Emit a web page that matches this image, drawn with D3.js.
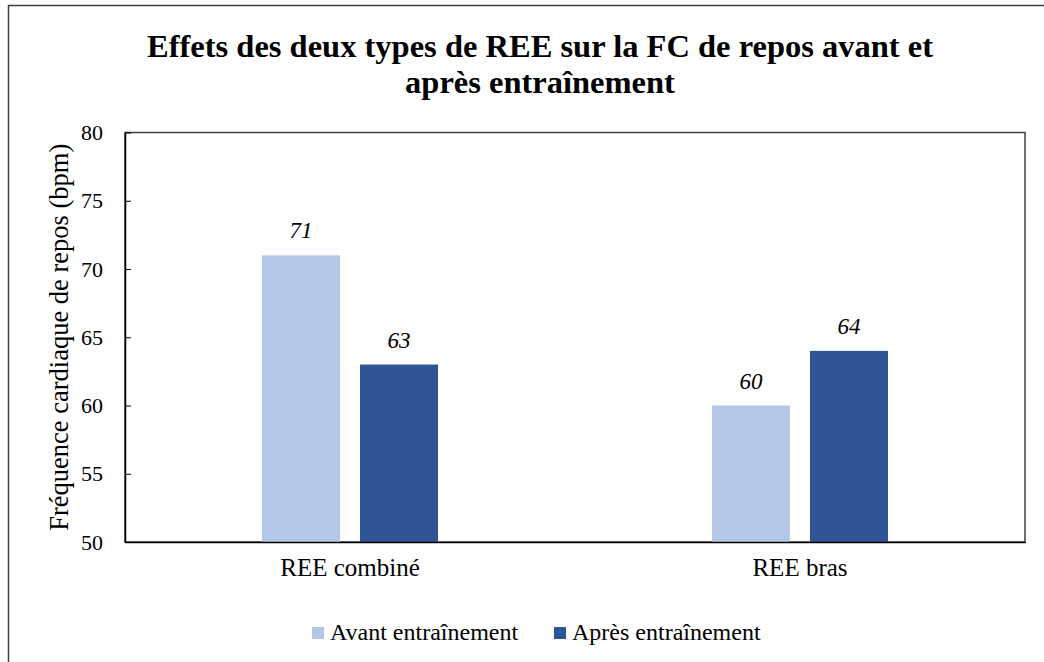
<!DOCTYPE html>
<html>
<head>
<meta charset="utf-8">
<script src="https://cdn.jsdelivr.net/npm/d3@7"></script>
<style>
  body { margin: 0; background: #fff; }
  text { font-family: "Liberation Serif", "Times New Roman", serif; fill: #000; }
</style>
</head>
<body>
<div id="chart"></div>
<script>
// Data
var categories = ["REE combiné", "REE bras"];
var series = ["Avant entraînement", "Après entraînement"];
var avantValues = [71, 60];
var apresValues = [63, 64];
var yTicks = [50, 55, 60, 65, 70, 75, 80];
var colors = ["#B4C7E7", "#2F5597"];

var w = 1044, h = 662;
var margin = {top: 132.5, right: 19, bottom: 120, left: 125};
var serif = "'Liberation Serif', 'Times New Roman', serif";

var svg = d3.select("#chart").append("svg")
  .attr("width", w).attr("height", h);

// outer frame (runs off the bottom/right edge)
svg.append("rect")
  .attr("x", 8.5).attr("y", 5.5)
  .attr("width", w + 20).attr("height", h + 20)
  .attr("fill", "none").attr("stroke", "#404040").attr("stroke-width", 1.5);

// Title
var title = svg.append("text")
  .attr("text-anchor", "middle")
  .style("font-family", serif)
  .style("font-weight", "bold").style("font-size", "32.5px");
title.append("tspan").attr("x", 540).attr("y", 57).text("Effets des deux types de REE sur la FC de repos avant et");
title.append("tspan").attr("x", 540).attr("y", 93).text("après entraînement");

var x0 = d3.scaleBand().domain(categories)
  .range([margin.left, w - margin.right]);
var x1 = d3.scaleBand().domain(series)
  .range([0, x0.bandwidth()])
  .paddingInner(0.204).paddingOuter(1.398);
var y = d3.scaleLinear().domain([50, 80]).range([h - margin.bottom, margin.top]);

// plot frame
svg.append("rect")
  .attr("x", x0.range()[0]).attr("y", y(80))
  .attr("width", x0.range()[1] - x0.range()[0]).attr("height", y(50) - y(80))
  .attr("fill", "none").attr("stroke", "#404040").attr("stroke-width", 1.5);

// bars
var rows = categories.map(function(c, i) {
  return {cat: c, vals: [avantValues[i], apresValues[i]]};
});
var groups = svg.selectAll(".grp").data(rows).enter().append("g")
  .attr("transform", function(d) { return "translate(" + x0(d.cat) + ",0)"; });

groups.selectAll("rect").data(function(d) {
    return d.vals.map(function(v, j) { return {s: series[j], v: v, j: j}; });
  }).enter().append("rect")
  .attr("x", function(d) { return x1(d.s); })
  .attr("y", function(d) { return y(d.v); })
  .attr("width", x1.bandwidth())
  .attr("height", function(d) { return y(50) - y(d.v); })
  .attr("fill", function(d) { return colors[d.j]; });

// value labels
groups.selectAll(".lbl").data(function(d) {
    return d.vals.map(function(v, j) { return {s: series[j], v: v}; });
  }).enter().append("text")
  .attr("x", function(d) { return x1(d.s) + x1.bandwidth() / 2; })
  .attr("y", function(d) { return y(d.v) - 17; })
  .attr("text-anchor", "middle")
  .style("font-family", serif)
  .style("font-style", "italic").style("font-size", "23px")
  .text(function(d) { return d.v; });

// y axis
var yAxis = d3.axisLeft(y).tickValues(yTicks).tickSize(0).tickPadding(22);
var gy = svg.append("g").attr("transform", "translate(" + margin.left + ",0)").call(yAxis);
gy.select(".domain").attr("stroke", "#000").attr("stroke-width", 1.5);
gy.selectAll(".tick text").style("font-size", "22px").style("font-family", serif);
gy.selectAll(".tick").append("line")
  .attr("x1", 0).attr("x2", 6).attr("stroke", "#000").attr("stroke-width", 1);

// x axis
var xAxis = d3.axisBottom(x0).tickSize(0).tickPadding(16);
var gx = svg.append("g").attr("transform", "translate(0," + y(50) + ")").call(xAxis);
gx.select(".domain").attr("stroke", "#000").attr("stroke-width", 1.5);
gx.selectAll(".tick text").style("font-size", "25px").style("font-family", serif);

// y label
svg.append("text")
  .attr("transform", "translate(68," + (y(65)) + ") rotate(-90)")
  .attr("text-anchor", "middle")
  .style("font-family", serif)
  .style("font-size", "26.5px")
  .text("Fréquence cardiaque de repos (bpm)");

// legend
var legendX = [312, 554];
var legend = svg.selectAll(".leg").data(series).enter().append("g")
  .attr("transform", function(d, i) { return "translate(" + legendX[i] + ",627)"; });
legend.append("rect").attr("width", 12).attr("height", 12)
  .attr("fill", function(d, i) { return colors[i]; });
legend.append("text").attr("x", 18).attr("y", 13)
  .style("font-family", serif)
  .style("font-size", "24px")
  .text(function(d) { return d; });
</script>
</body>
</html>
